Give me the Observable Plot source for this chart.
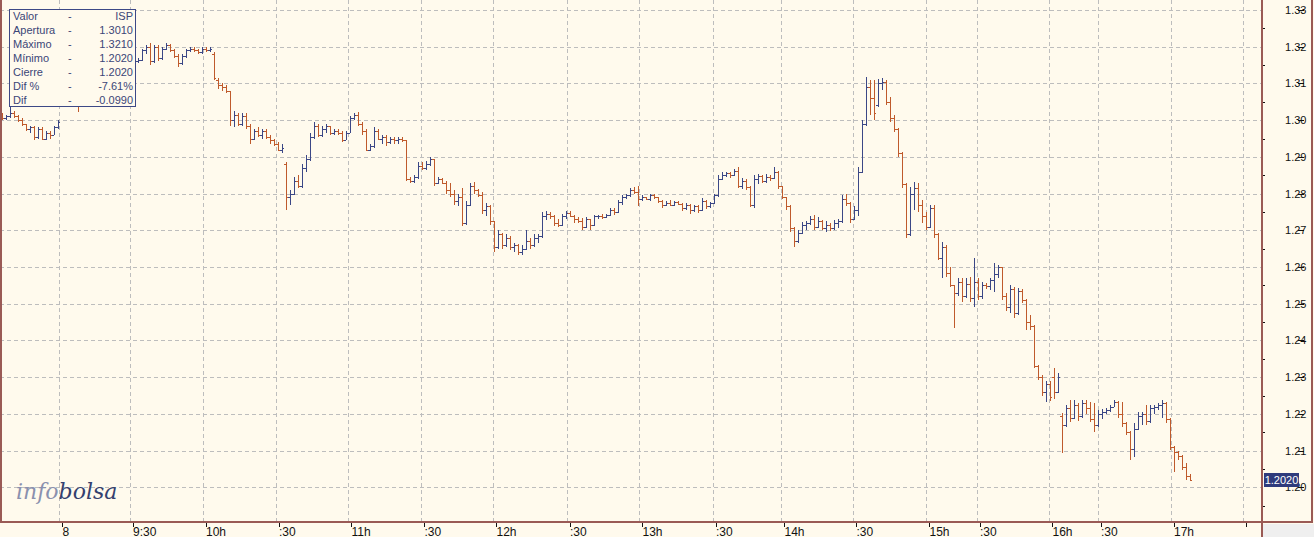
<!DOCTYPE html>
<html><head><meta charset="utf-8">
<script src="https://cdn.jsdelivr.net/npm/d3@7"></script>
<script src="https://cdn.jsdelivr.net/npm/@observablehq/plot@0.6"></script>
<style>
html,body{margin:0;padding:0;background:#fffaed;}
#wrap{position:relative;width:1314px;height:537px;overflow:hidden;background:#fffaed;font-family:"Liberation Sans",Arial,sans-serif;}
#wrap svg{position:absolute;left:0;top:0;}
.ln{position:absolute;background:#9a5a55;}
#legend{position:absolute;left:9px;top:9px;width:127px;height:98px;box-sizing:border-box;border:1px solid #3d4886;background:#fffaed;color:#3b4677;font-size:11px;}
#legend .row{position:absolute;left:3px;right:2px;height:14px;line-height:14px;}
#legend .lab{position:absolute;left:0;}
#legend .dash{position:absolute;left:55px;}
#legend .val{position:absolute;right:0;}
#logo{position:absolute;left:16px;top:479px;font-family:"DejaVu Serif",serif;font-style:italic;font-size:22px;line-height:26px;}
#tag{position:absolute;left:1264px;width:35px;height:14px;line-height:14px;background:#2f3b7c;color:#fff;font-size:11px;text-align:center;}
</style></head><body><div id="wrap"></div>
<script>
const opens = [
1.3010,1.3005,1.3010,1.3020,1.3010,1.3000,1.2990,1.2975,1.2980,1.2955,
1.2975,1.2950,1.2965,1.2960,1.2980,1.3045,1.3055,1.3065,1.3060,1.3050,
1.3040,1.3060,1.3075,1.3085,1.3080,1.3095,1.3105,1.3100,1.3115,1.3125,
1.3120,1.3135,1.3145,1.3155,1.3160,1.3165,1.3190,1.3200,1.3160,1.3200,
1.3170,1.3195,1.3205,1.3190,1.3175,1.3155,1.3175,1.3190,1.3195,1.3190,
1.3185,1.3195,1.3190,1.3180,1.3110,1.3095,1.3090,1.3080,1.3000,1.3015,
1.2990,1.3010,1.2985,1.2950,1.2970,1.2960,1.2970,1.2955,1.2945,1.2935,
1.2920,1.2880,1.2790,1.2800,1.2835,1.2820,1.2870,1.2895,1.2955,1.2985,
1.2960,1.2975,1.2985,1.2965,1.2970,1.2965,1.2945,1.2965,1.3005,1.3015,
1.2990,1.2970,1.2920,1.2930,1.2970,1.2950,1.2955,1.2940,1.2950,1.2945,
1.2950,1.2945,1.2840,1.2835,1.2845,1.2875,1.2870,1.2880,1.2895,1.2830,
1.2840,1.2830,1.2810,1.2800,1.2780,1.2790,1.2720,1.2770,1.2820,1.2810,
1.2795,1.2755,1.2765,1.2725,1.2655,1.2690,1.2660,1.2680,1.2655,1.2660,
1.2640,1.2650,1.2670,1.2660,1.2680,1.2685,1.2740,1.2745,1.2740,1.2720,
1.2715,1.2740,1.2748,1.2740,1.2730,1.2725,1.2710,1.2730,1.2715,1.2738,
1.2740,1.2735,1.2742,1.2755,1.2750,1.2778,1.2790,1.2795,1.2810,1.2805,
1.2785,1.2790,1.2785,1.2795,1.2790,1.2780,1.2770,1.2775,1.2770,1.2778,
1.2772,1.2760,1.2770,1.2755,1.2765,1.2755,1.2780,1.2765,1.2775,1.2795,
1.2840,1.2850,1.2855,1.2850,1.2862,1.2820,1.2835,1.2818,1.2770,1.2840,
1.2848,1.2835,1.2845,1.2842,1.2860,1.2820,1.2790,1.2765,1.2705,1.2670,
1.2692,1.2715,1.2720,1.2730,1.2710,1.2725,1.2705,1.2715,1.2705,1.2720,
1.2725,1.2785,1.2775,1.2730,1.2755,1.2860,1.2990,1.3090,1.3060,1.3040,
1.3100,1.3105,1.3050,1.3005,1.2975,1.2910,1.2825,1.2690,1.2800,1.2815,
1.2770,1.2740,1.2710,1.2760,1.2690,1.2625,1.2655,1.2585,1.2550,1.2530,
1.2560,1.2520,1.2555,1.2515,1.2560,1.2520,1.2550,1.2548,1.2565,1.2580,
1.2600,1.2520,1.2490,1.2540,1.2475,1.2535,1.2510,1.2450,1.2440,1.2330,
1.2300,1.2260,1.2280,1.2300,1.2260,1.2195,1.2170,1.2215,1.2190,1.2225,
1.2195,1.2230,1.2215,1.2185,1.2170,1.2200,1.2205,1.2210,1.2220,1.2232,
1.2200,1.2175,1.2150,1.2105,1.2160,1.2195,1.2200,1.2180,1.2215,1.2220,
1.2225,1.2230,1.2185,1.2110,1.2095,1.2085,1.2055,1.2030];
const highs = [
1.3020,1.3015,1.3040,1.3025,1.3015,1.3005,1.2990,1.2985,1.2985,1.2980,
1.2980,1.2970,1.2970,1.2985,1.3000,1.3060,1.3070,1.3075,1.3070,1.3060,
1.3065,1.3080,1.3090,1.3095,1.3100,1.3110,1.3115,1.3120,1.3130,1.3135,
1.3140,1.3150,1.3160,1.3165,1.3170,1.3195,1.3205,1.3210,1.3205,1.3205,
1.3200,1.3210,1.3208,1.3195,1.3180,1.3180,1.3195,1.3200,1.3200,1.3195,
1.3200,1.3200,1.3200,1.3185,1.3115,1.3100,1.3095,1.3080,1.3025,1.3020,
1.3020,1.3020,1.2990,1.2975,1.2980,1.2975,1.2975,1.2960,1.2950,1.2940,
1.2935,1.2885,1.2810,1.2845,1.2850,1.2880,1.2905,1.2965,1.2995,1.2990,
1.2985,1.2990,1.2985,1.2975,1.2975,1.2970,1.2970,1.3010,1.3020,1.3022,
1.2995,1.2975,1.2935,1.2980,1.2975,1.2960,1.2960,1.2955,1.2955,1.2955,
1.2955,1.2945,1.2845,1.2850,1.2885,1.2885,1.2890,1.2900,1.2895,1.2845,
1.2842,1.2835,1.2830,1.2810,1.2800,1.2815,1.2780,1.2830,1.2832,1.2812,
1.2805,1.2775,1.2770,1.2725,1.2700,1.2692,1.2690,1.2685,1.2665,1.2662,
1.2660,1.2700,1.2680,1.2690,1.2690,1.2750,1.2752,1.2750,1.2742,1.2730,
1.2745,1.2752,1.2752,1.2742,1.2735,1.2733,1.2735,1.2732,1.2742,1.2742,
1.2745,1.2745,1.2762,1.2760,1.2782,1.2795,1.2800,1.2815,1.2818,1.2820,
1.2795,1.2792,1.2800,1.2800,1.2792,1.2782,1.2780,1.2782,1.2780,1.2780,
1.2775,1.2775,1.2772,1.2770,1.2768,1.2788,1.2782,1.2778,1.2800,1.2850,
1.2858,1.2860,1.2858,1.2866,1.2872,1.2842,1.2840,1.2820,1.2850,1.2852,
1.2850,1.2852,1.2850,1.2872,1.2862,1.2822,1.2792,1.2770,1.2710,1.2700,
1.2722,1.2725,1.2740,1.2741,1.2735,1.2728,1.2725,1.2720,1.2728,1.2730,
1.2795,1.2800,1.2778,1.2765,1.2872,1.3000,1.3117,1.3110,1.3108,1.3112,
1.3115,1.3108,1.3063,1.3014,1.2978,1.2912,1.2828,1.2818,1.2831,1.2828,
1.2782,1.2750,1.2770,1.2768,1.2692,1.2668,1.2660,1.2600,1.2552,1.2570,
1.2570,1.2570,1.2572,1.2624,1.2570,1.2560,1.2557,1.2570,1.2610,1.2605,
1.2600,1.2530,1.2551,1.2545,1.2543,1.2540,1.2512,1.2470,1.2442,1.2332,
1.2305,1.2290,1.2290,1.2324,1.2310,1.2202,1.2224,1.2237,1.2237,1.2230,
1.2237,1.2237,1.2232,1.2229,1.2210,1.2212,1.2215,1.2224,1.2237,1.2235,
1.2232,1.2178,1.2152,1.2175,1.2205,1.2205,1.2224,1.2224,1.2225,1.2230,
1.2237,1.2232,1.2188,1.2112,1.2100,1.2088,1.2066,1.2035];
const lows = [
1.3000,1.3000,1.3005,1.3005,1.2995,1.2985,1.2970,1.2965,1.2945,1.2950,
1.2945,1.2945,1.2950,1.2960,1.2975,1.3040,1.3045,1.3050,1.3045,1.3022,
1.3040,1.3055,1.3070,1.3075,1.3078,1.3090,1.3095,1.3098,1.3110,1.3115,
1.3118,1.3130,1.3140,1.3150,1.3155,1.3160,1.3180,1.3150,1.3155,1.3160,
1.3165,1.3190,1.3185,1.3170,1.3145,1.3150,1.3170,1.3185,1.3185,1.3180,
1.3180,1.3185,1.3185,1.3110,1.3085,1.3080,1.3075,1.2985,1.2980,1.2985,
1.2985,1.2975,1.2935,1.2945,1.2955,1.2950,1.2950,1.2935,1.2930,1.2915,
1.2910,1.2755,1.2770,1.2795,1.2815,1.2815,1.2860,1.2890,1.2950,1.2955,
1.2955,1.2965,1.2960,1.2960,1.2960,1.2940,1.2945,1.2965,1.3000,1.2985,
1.2960,1.2915,1.2915,1.2925,1.2945,1.2935,1.2930,1.2935,1.2935,1.2935,
1.2940,1.2835,1.2830,1.2830,1.2840,1.2865,1.2865,1.2875,1.2820,1.2825,
1.2825,1.2800,1.2790,1.2770,1.2765,1.2712,1.2715,1.2765,1.2800,1.2790,
1.2745,1.2740,1.2715,1.2640,1.2650,1.2650,1.2655,1.2645,1.2640,1.2632,
1.2632,1.2645,1.2650,1.2655,1.2665,1.2680,1.2728,1.2730,1.2712,1.2708,
1.2712,1.2730,1.2735,1.2720,1.2720,1.2700,1.2705,1.2700,1.2712,1.2732,
1.2732,1.2733,1.2740,1.2742,1.2748,1.2770,1.2785,1.2792,1.2800,1.2765,
1.2780,1.2782,1.2780,1.2785,1.2775,1.2760,1.2765,1.2765,1.2765,1.2768,
1.2752,1.2755,1.2745,1.2750,1.2748,1.2752,1.2758,1.2760,1.2772,1.2790,
1.2838,1.2845,1.2842,1.2848,1.2815,1.2812,1.2810,1.2763,1.2762,1.2825,
1.2828,1.2830,1.2835,1.2840,1.2812,1.2785,1.2755,1.2695,1.2655,1.2665,
1.2690,1.2700,1.2715,1.2700,1.2705,1.2700,1.2695,1.2698,1.2700,1.2705,
1.2720,1.2765,1.2720,1.2728,1.2740,1.2856,1.2985,1.3015,1.3000,1.3035,
1.3082,1.3040,1.2995,1.2967,1.2900,1.2815,1.2680,1.2685,1.2755,1.2750,
1.2720,1.2700,1.2705,1.2680,1.2619,1.2570,1.2573,1.2545,1.2433,1.2520,
1.2505,1.2515,1.2504,1.2490,1.2510,1.2512,1.2540,1.2537,1.2532,1.2570,
1.2510,1.2480,1.2475,1.2461,1.2470,1.2502,1.2428,1.2428,1.2324,1.2291,
1.2250,1.2232,1.2235,1.2240,1.2256,1.2093,1.2165,1.2177,1.2185,1.2180,
1.2190,1.2200,1.2177,1.2150,1.2164,1.2185,1.2200,1.2205,1.2218,1.2190,
1.2164,1.2142,1.2074,1.2082,1.2155,1.2170,1.2169,1.2175,1.2200,1.2210,
1.2190,1.2175,1.2101,1.2041,1.2074,1.2047,1.2020,1.2020];
const closes = [
1.3005,1.3010,1.3020,1.3010,1.3000,1.2990,1.2975,1.2980,1.2955,1.2975,
1.2950,1.2965,1.2960,1.2980,1.2995,1.3055,1.3065,1.3060,1.3050,1.3040,
1.3060,1.3075,1.3085,1.3080,1.3095,1.3105,1.3100,1.3115,1.3125,1.3120,
1.3135,1.3145,1.3155,1.3160,1.3165,1.3190,1.3200,1.3160,1.3200,1.3170,
1.3195,1.3205,1.3190,1.3175,1.3155,1.3175,1.3190,1.3195,1.3190,1.3185,
1.3195,1.3190,1.3195,1.3115,1.3095,1.3090,1.3080,1.3000,1.3015,1.2990,
1.3010,1.2985,1.2950,1.2970,1.2960,1.2970,1.2955,1.2945,1.2935,1.2920,
1.2925,1.2790,1.2800,1.2835,1.2820,1.2870,1.2895,1.2955,1.2985,1.2960,
1.2975,1.2985,1.2965,1.2970,1.2965,1.2945,1.2965,1.3005,1.3015,1.2990,
1.2970,1.2920,1.2930,1.2970,1.2950,1.2955,1.2940,1.2950,1.2945,1.2950,
1.2945,1.2840,1.2835,1.2845,1.2875,1.2870,1.2880,1.2895,1.2830,1.2840,
1.2830,1.2810,1.2800,1.2780,1.2790,1.2720,1.2770,1.2820,1.2810,1.2795,
1.2755,1.2765,1.2725,1.2655,1.2690,1.2660,1.2680,1.2655,1.2660,1.2640,
1.2650,1.2670,1.2660,1.2680,1.2685,1.2740,1.2745,1.2740,1.2720,1.2715,
1.2740,1.2748,1.2740,1.2730,1.2725,1.2710,1.2730,1.2715,1.2738,1.2740,
1.2735,1.2742,1.2755,1.2750,1.2778,1.2790,1.2795,1.2810,1.2805,1.2785,
1.2790,1.2785,1.2795,1.2790,1.2780,1.2770,1.2775,1.2770,1.2778,1.2772,
1.2760,1.2770,1.2755,1.2765,1.2755,1.2780,1.2765,1.2775,1.2795,1.2840,
1.2850,1.2855,1.2850,1.2862,1.2820,1.2835,1.2818,1.2770,1.2840,1.2848,
1.2835,1.2845,1.2842,1.2860,1.2820,1.2790,1.2765,1.2705,1.2670,1.2692,
1.2715,1.2720,1.2730,1.2710,1.2725,1.2705,1.2715,1.2705,1.2720,1.2725,
1.2785,1.2775,1.2730,1.2755,1.2860,1.2990,1.3090,1.3060,1.3020,1.3100,
1.3105,1.3050,1.3005,1.2975,1.2910,1.2825,1.2690,1.2800,1.2815,1.2770,
1.2740,1.2710,1.2760,1.2690,1.2625,1.2655,1.2585,1.2550,1.2530,1.2560,
1.2520,1.2555,1.2515,1.2560,1.2520,1.2550,1.2548,1.2565,1.2580,1.2600,
1.2520,1.2490,1.2540,1.2475,1.2535,1.2510,1.2450,1.2440,1.2330,1.2300,
1.2260,1.2280,1.2245,1.2260,1.2300,1.2170,1.2215,1.2190,1.2225,1.2195,
1.2230,1.2215,1.2185,1.2170,1.2200,1.2205,1.2210,1.2220,1.2232,1.2200,
1.2175,1.2150,1.2105,1.2160,1.2195,1.2200,1.2180,1.2215,1.2220,1.2225,
1.2230,1.2185,1.2110,1.2095,1.2085,1.2055,1.2030,1.2020];

// x-axis ticks (bar-index positions) and their labels
const xTickPos = [14.25,31.875,50.125,68.375,86.5,104.75,122.75,141.125,159.25,177.625,194.75,212.75,231,243.625,261.75,273.875,292.125,310.25];
const xTickLabels = ["8","9:30","10h",":30","11h",":30","12h",":30","13h",":30","14h",":30","15h",":30","16h",":30","17h",""];
// y-axis ticks
const yTicks = [1.20,1.21,1.22,1.23,1.24,1.25,1.26,1.27,1.28,1.29,1.30,1.31,1.32,1.33];
const yMinor = [1.195,1.205,1.215,1.225,1.235,1.245,1.255,1.265,1.275,1.285,1.295,1.305,1.315,1.325];
// info box
const legendLabels = ["Valor","Apertura","Máximo","Mínimo","Cierre","Dif %","Dif"];
const legendValues = ["ISP","1.3010","1.3210","1.2020","1.2020","-7.61%","-0.0990"];
const lastPrice = 1.2020;

const BLUE = "#3b4786", ORANGE = "#bf5a2c", GRID = "#bdbdbd";
const bars = opens.map((o, i) => ({i, open: o, high: highs[i], low: lows[i], close: closes[i]}));
const barColor = d => d.close >= d.open ? BLUE : ORANGE;
const labelOf = new Map(xTickPos.map((p, k) => [p, xTickLabels[k]]));

const plot = Plot.plot({
  width: 1314, height: 537,
  marginLeft: 0, marginRight: 52, marginTop: 0, marginBottom: 15,
  style: {background: "transparent", fontFamily: "'Liberation Sans', Arial, sans-serif", color: "#111", shapeRendering: "crispEdges"},
  x: {domain: [-0.5, 315]},
  y: {domain: [1.190549, 1.332724]},
  color: {type: "identity"},
  marks: [
    Plot.gridY(yTicks, {stroke: GRID, strokeOpacity: 1, strokeDasharray: "4,3"}),
    Plot.gridX(xTickPos, {stroke: GRID, strokeOpacity: 1, strokeDasharray: "4,3"}),
    Plot.ruleX(bars, {x: "i", y1: "low", y2: "high", stroke: barColor}),
    Plot.ruleY(bars, {y: "open", x1: "i", x2: "i", insetLeft: -2, stroke: barColor}),
    Plot.ruleY(bars, {y: "close", x1: "i", x2: "i", insetRight: -2, stroke: barColor}),
    Plot.axisX(xTickPos, {anchor: "bottom", label: null, tickSize: 6, tickPadding: 0, textAnchor: "start", dx: 3, dy: -1.5, fontSize: 12, tickFormat: d => labelOf.get(d)}),
    Plot.axisY(yTicks, {anchor: "right", label: null, tickSize: 6, tickPadding: 3, textAnchor: "end", dx: 35, fontSize: 11, tickFormat: d => d.toFixed(2)}),
    Plot.axisY(yMinor, {anchor: "right", label: null, tickSize: 2, tickFormat: () => ""})
  ]
});

const wrap = document.getElementById("wrap");
wrap.appendChild(plot);
function box(cls, css) { const d = document.createElement("div"); d.className = cls; Object.assign(d.style, css); wrap.appendChild(d); return d; }
// frame lines
box("ln", {left: "0px", top: "0px", width: "2px", height: "523px"});
box("ln", {left: "0px", top: "521px", width: "1313px", height: "2px"});
box("ln", {left: "1261px", top: "0px", width: "2px", height: "537px"});
box("ln", {left: "1311px", top: "0px", width: "2px", height: "523px"});
box("", {position: "absolute", left: "1263px", top: "524px", width: "51px", height: "13px", background: "#efefef"});
// info box
const lg = box("", {}); lg.id = "legend";
legendLabels.forEach((l, k) => {
  const r = document.createElement("div"); r.className = "row"; r.style.top = (-1 + 14 * k) + "px";
  r.innerHTML = `<span class="lab">${l}</span><span class="dash">-</span><span class="val">${legendValues[k]}</span>`;
  lg.appendChild(r);
});
// logo
const logo = box("", {}); logo.id = "logo";
logo.innerHTML = '<span style="color:#8a90ae">info</span><span style="color:#34406e">bolsa</span>';
// last price tag
const tag = box("", {}); tag.id = "tag";
tag.textContent = lastPrice.toFixed(4);
tag.style.top = (plot.scale("y").apply(lastPrice) - 7) + "px";
</script>
</body></html>
